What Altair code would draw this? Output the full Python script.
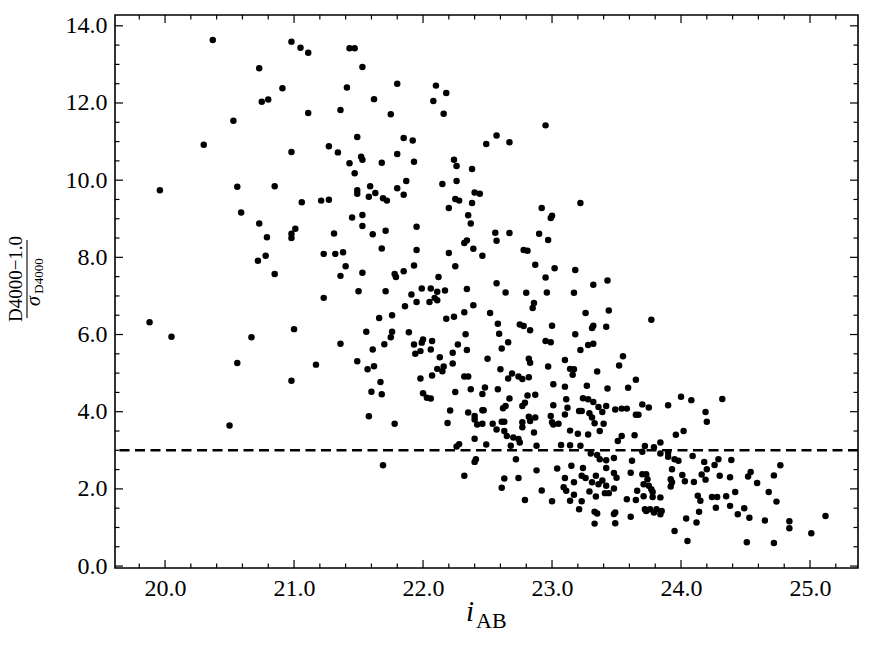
import altair as alt
import pandas as pd

# ---- data (i_AB magnitude, (D4000-1)/sigma) ----
x_vals = [
    20.37, 20.98, 21.05, 21.11, 21.43, 21.47, 20.73, 21.53, 20.91, 21.41, 20.75, 20.80, 21.11, 21.36,
    20.53, 20.30, 20.98, 21.27, 21.34, 21.49, 21.52, 21.53, 21.43, 21.47, 19.96, 20.56, 20.85, 21.49,
    21.49, 21.06, 21.21, 21.27, 20.59, 21.45, 21.53, 21.53, 20.73, 21.01, 20.98, 20.98, 20.79, 21.31,
    21.23, 21.32, 21.38, 21.40, 20.78, 20.72, 20.85, 21.36, 21.53, 21.50,
    21.80, 21.62, 21.75, 22.10, 22.18, 22.08, 22.16, 22.95, 21.85, 21.92, 22.49, 22.57, 22.67, 21.80,
    21.68, 21.93, 22.24, 22.26, 22.38, 21.59, 21.58, 21.63, 21.69, 21.72, 21.80, 21.87, 21.85, 22.15,
    22.26, 22.25, 22.28, 22.20, 22.40, 22.44, 22.38, 22.35, 22.37, 22.92, 23.00, 22.99, 23.22, 21.95,
    21.61, 21.71, 21.68, 21.95, 21.93, 22.20, 22.25, 22.32, 22.34, 22.39, 22.46, 22.56, 22.57, 22.67,
    22.78, 22.81, 22.90, 22.97, 22.87, 22.95, 23.02, 23.18, 23.32, 23.43, 21.78, 21.79, 21.85, 22.12,
    21.71, 21.91, 21.99, 22.06, 22.11, 22.17, 22.34, 22.57, 22.64, 22.80, 22.96, 23.17,
    21.95, 22.05, 22.09, 22.11, 22.39, 22.86, 22.85, 21.86,
    21.66, 21.76, 21.56, 21.75, 21.76, 21.89, 22.18, 22.24, 22.32, 22.33, 22.52, 22.58, 22.59, 22.75,
    22.78, 22.83, 23.00, 23.18, 23.26, 23.32, 23.31, 23.42, 23.44,
    21.61, 21.70, 21.93, 21.94, 22.00, 21.99, 21.98, 22.06, 22.07, 22.13, 22.23, 22.27, 22.34, 22.50,
    22.61, 22.66, 22.82, 22.83, 22.95, 22.99, 23.10, 23.22, 23.28, 23.32,
    21.57, 21.62, 21.67, 21.68, 21.60, 21.98, 22.11, 22.16, 22.15, 22.07, 22.23, 22.25, 22.32, 22.35,
    22.37, 22.46, 22.48, 22.58, 22.60, 22.66, 22.69, 22.74, 22.77, 22.82, 22.97, 23.01, 23.14, 23.17,
    23.16, 23.10, 23.27, 23.35, 23.43,
    22.00, 22.03, 22.06, 21.58, 21.78, 22.21, 22.19, 22.35, 22.40, 22.40, 22.42, 22.46, 22.47, 22.46,
    22.54, 22.57, 22.62, 22.64, 22.67, 22.61, 22.63, 22.63, 22.65, 22.70, 22.74, 22.75, 22.77, 22.77,
    22.77, 22.79, 22.81, 22.87, 22.82, 22.83, 22.87, 22.86, 22.99, 23.00, 23.01, 23.01, 23.05, 23.11,
    23.12, 23.10, 23.14, 23.20, 23.21, 23.24, 23.28, 23.23, 23.29, 23.31, 23.33, 23.32, 23.36, 23.39,
    23.42, 23.40, 23.37, 23.28,
    22.40, 22.49, 22.28, 22.26, 22.68, 22.88, 23.07, 23.14, 23.22, 23.30, 23.35, 23.37, 23.42, 22.72,
    22.41, 22.40,
    21.69, 22.32, 22.88, 23.04, 23.15, 23.24, 23.42, 22.63, 22.61, 22.74, 22.92, 23.00, 22.79, 23.10,
    23.09, 23.11, 23.17, 23.23, 23.26, 23.31, 23.34, 23.36, 23.39, 23.42, 23.44, 23.41, 23.29, 23.34,
    23.14, 23.17, 23.23, 23.21, 23.33, 23.35, 23.33,
    19.88, 20.05, 20.50, 20.56, 20.67, 20.98, 21.00, 21.17, 21.23, 21.36, 21.49,
    23.77, 23.55, 23.52, 23.65, 23.59, 23.49, 23.54, 23.58, 23.70, 23.75, 23.90, 23.65, 23.67, 24.00,
    24.08, 24.32, 24.19, 24.20, 24.02, 23.96, 23.64, 23.54, 23.51, 23.72, 23.79, 23.84, 23.70, 23.84,
    23.90, 23.48, 23.62, 23.90, 23.95, 23.98, 24.09, 24.18, 24.26, 24.29, 24.39, 24.77, 23.93, 24.20,
    23.61, 23.48, 23.50, 24.01, 24.16, 24.30, 24.38, 24.54, 24.52, 24.72, 23.70, 23.73, 23.74, 23.92,
    24.03, 24.10, 24.19, 24.59, 23.48, 23.75, 23.71, 23.92, 23.93, 23.66, 23.77, 23.78, 24.42, 24.68,
    23.71, 23.78, 23.84, 24.13, 24.24, 24.28, 24.35, 23.58, 23.65, 24.15, 24.74, 23.72, 23.76, 23.81,
    23.85, 23.79, 23.73, 24.27, 24.38, 24.49, 24.14, 23.49, 23.48, 23.84, 24.44, 25.12, 23.61, 24.04,
    24.53, 24.65, 24.84, 23.49, 24.12, 24.84, 23.95, 25.01, 24.05, 24.51, 24.72,
]
y_vals = [
    13.63, 13.59, 13.43, 13.30, 13.42, 13.42, 12.90, 12.93, 12.38, 12.40, 12.03, 12.09, 11.74, 11.82,
    11.54, 10.92, 10.73, 10.88, 10.72, 11.12, 10.61, 10.53, 10.44, 10.18, 9.74, 9.83, 9.84, 9.74,
    9.65, 9.43, 9.47, 9.49, 9.16, 9.03, 9.10, 8.81, 8.88, 8.74, 8.61, 8.50, 8.52, 8.62,
    8.09, 8.09, 8.13, 7.77, 8.04, 7.91, 7.57, 7.52, 7.60, 7.12,
    12.50, 12.10, 11.71, 12.45, 12.26, 12.05, 11.72, 11.42, 11.09, 11.03, 10.94, 11.16, 10.98, 10.68,
    10.45, 10.48, 10.53, 10.37, 10.29, 9.84, 9.57, 9.67, 9.53, 9.47, 9.79, 9.98, 9.62, 9.90,
    9.98, 9.51, 9.47, 9.28, 9.68, 9.65, 9.41, 9.09, 8.88, 9.28, 9.08, 9.02, 9.41, 8.79,
    8.60, 8.69, 8.23, 8.19, 7.79, 8.11, 7.77, 8.37, 8.44, 8.22, 8.04, 8.64, 8.43, 8.63,
    8.19, 8.17, 8.61, 8.45, 7.81, 7.48, 7.72, 7.67, 7.29, 7.40, 7.57, 7.49, 7.64, 7.49,
    7.12, 7.04, 7.19, 7.19, 7.11, 7.14, 7.18, 7.33, 7.09, 7.08, 7.09, 7.08,
    6.84, 6.84, 6.95, 6.89, 6.76, 6.82, 6.69, 6.73,
    6.43, 6.50, 6.07, 5.93, 6.07, 6.06, 6.41, 6.46, 6.58, 6.01, 6.56, 6.28, 6.02, 6.26,
    6.22, 6.11, 6.23, 6.01, 6.56, 6.23, 6.17, 6.20, 6.62,
    5.61, 5.75, 5.74, 5.50, 5.87, 5.79, 5.57, 5.61, 5.83, 5.41, 5.53, 5.74, 5.60, 5.37,
    5.64, 5.80, 5.37, 5.27, 5.83, 5.80, 5.34, 5.60, 5.73, 5.76,
    5.10, 5.18, 4.77, 4.45, 4.52, 4.86, 5.11, 5.17, 5.05, 4.94, 5.25, 4.51, 4.91, 4.91,
    4.58, 4.46, 4.63, 4.58, 5.10, 4.86, 4.99, 4.91, 4.85, 4.89, 5.17, 4.71, 5.11, 5.10,
    4.96, 4.65, 4.67, 5.04, 4.60,
    4.48, 4.36, 4.34, 3.88, 3.69, 4.03, 3.71, 3.98, 3.89, 3.80, 3.67, 4.04, 4.04, 3.69,
    3.69, 3.54, 4.09, 4.15, 4.34, 3.74, 3.74, 3.50, 3.37, 3.33, 3.29, 3.20, 3.60, 3.73,
    4.15, 4.23, 4.42, 4.44, 3.87, 3.76, 3.85, 3.46, 3.89, 3.73, 4.17, 3.67, 3.69, 4.32,
    4.10, 3.93, 3.51, 3.43, 4.02, 4.35, 4.32, 4.02, 3.96, 3.85, 3.70, 4.25, 4.12, 3.99,
    4.15, 3.69, 3.50, 3.41,
    3.30, 3.15, 3.16, 3.10, 3.12, 3.12, 3.14, 3.13, 3.12, 2.92, 2.88, 2.77, 2.74, 2.77,
    2.77, 2.70,
    2.61, 2.34, 2.48, 2.53, 2.60, 2.54, 2.54, 2.27, 2.03, 2.28, 1.96, 1.68, 1.71, 2.28,
    2.04, 1.95, 2.17, 2.34, 2.28, 2.17, 2.34, 2.12, 2.22, 2.08, 1.89, 1.89, 1.93, 1.80,
    1.69, 1.85, 1.68, 1.47, 1.41, 1.36, 1.10,
    6.32, 5.94, 3.64, 5.26, 5.93, 4.80, 6.14, 5.22, 6.95, 5.76, 5.31,
    6.38, 5.44, 5.20, 4.83, 4.62, 4.06, 4.08, 4.08, 4.19, 4.11, 4.17, 3.92, 3.92, 4.39,
    4.30, 4.33, 3.99, 3.74, 3.50, 3.40, 3.39, 3.37, 3.24, 3.11, 3.08, 3.20, 2.96, 2.92,
    2.94, 2.80, 2.73, 2.83, 2.77, 2.73, 2.85, 2.70, 2.62, 2.77, 2.75, 2.61, 2.51, 2.51,
    2.42, 2.41, 2.29, 2.36, 2.37, 2.34, 2.30, 2.44, 2.32, 2.35, 2.38, 2.38, 2.25, 2.25,
    2.20, 2.18, 2.24, 2.15, 2.01, 2.08, 2.12, 2.06, 2.17, 1.95, 1.99, 1.92, 1.92, 1.92,
    1.81, 1.79, 1.78, 1.82, 1.79, 1.79, 1.81, 1.73, 1.71, 1.69, 1.67, 1.47, 1.47, 1.47,
    1.43, 1.39, 1.43, 1.51, 1.56, 1.50, 1.41, 1.39, 1.35, 1.34, 1.34, 1.30, 1.28, 1.23,
    1.25, 1.18, 1.16, 1.11, 1.13, 0.98, 0.91, 0.85, 0.65, 0.62, 0.60,
]

threshold = [3.0]
x_major = [20.0, 21.0, 22.0, 23.0, 24.0, 25.0]
x_minor = [19.8, 20.2, 20.4, 20.6, 20.8, 21.2, 21.4, 21.6, 21.8, 22.2, 22.4, 22.6, 22.8,
           23.2, 23.4, 23.6, 23.8, 24.2, 24.4, 24.6, 24.8, 25.2]
y_major = [0.0, 2.0, 4.0, 6.0, 8.0, 10.0, 12.0, 14.0]
y_minor = [0.5, 1.0, 1.5, 2.5, 3.0, 3.5, 4.5, 5.0, 5.5, 6.5, 7.0, 7.5, 8.5, 9.0, 9.5,
           10.5, 11.0, 11.5, 12.5, 13.0, 13.5]

W, H = 743, 553
FONT = "Liberation Serif"
MAJ, MIN = 8, 4.5

xs = alt.Scale(domain=[19.612, 25.372], nice=False, zero=False)
ys = alt.Scale(domain=[-0.05, 14.28], nice=False, zero=False)

x_axis = alt.Axis(values=x_major, format=".1f", title=None)
y_axis = alt.Axis(values=y_major, format=".1f", title=None)

pts = pd.DataFrame({"mag": x_vals, "snr": y_vals})

points = alt.Chart(pts).mark_circle(size=42, color="black", opacity=1).encode(
    x=alt.X("mag:Q", scale=xs, axis=x_axis, title=None),
    y=alt.Y("snr:Q", scale=ys, axis=y_axis, title=None),
)

thr = alt.Chart(pd.DataFrame({"thr": threshold})).mark_rule(
    color="black", strokeWidth=2.5, strokeDash=[10, 5.5]
).encode(y=alt.Y("thr:Q", scale=ys, axis=y_axis, title=None))


def xticks(vals, length, top):
    df = pd.DataFrame({"t": vals})
    if top:
        yy, yy2 = alt.value(0), alt.value(length)
    else:
        yy, yy2 = alt.value(H), alt.value(H - length)
    return alt.Chart(df).mark_rule(color="black", strokeWidth=1.2).encode(
        x=alt.X("t:Q", scale=xs, axis=x_axis, title=None), y=yy, y2=yy2)


def yticks(vals, length, right):
    df = pd.DataFrame({"t": vals})
    if right:
        xx, xx2 = alt.value(W), alt.value(W - length)
    else:
        xx, xx2 = alt.value(0), alt.value(length)
    return alt.Chart(df).mark_rule(color="black", strokeWidth=1.2).encode(
        y=alt.Y("t:Q", scale=ys, axis=y_axis, title=None), x=xx, x2=xx2)


ticks = [
    xticks(x_major, MAJ, False), xticks(x_major, MAJ, True),
    xticks(x_minor, MIN, False), xticks(x_minor, MIN, True),
    yticks(y_major, MAJ, False), yticks(y_major, MAJ, True),
    yticks(y_minor, MIN, False), yticks(y_minor, MIN, True),
]


def label(text, x, y, size, style="normal", angle=0):
    kw = dict(font=FONT, fontSize=size, fontStyle=style, color="black",
              align="center" if angle else "left", baseline="alphabetic")
    if angle:
        kw["angle"] = angle
    return alt.Chart(pd.DataFrame({"s": [text]})).mark_text(**kw).encode(
        text="s:N", x=alt.value(x), y=alt.value(y))


titles = [
    label("i", 351, 606, 29, "italic"),
    label("AB", 361, 613, 22),
    label("D4000\u22121.0", -93, 264, 19, angle=270),
    label("\u03c3", -75, 286, 20, "italic", angle=270),
    label("D4000", -72, 261, 13, angle=270),
    alt.Chart(pd.DataFrame({"b": [0]})).mark_rule(color="black", strokeWidth=1.1).encode(
        x=alt.value(-88), y=alt.value(225), y2=alt.value(303)),
]

chart = alt.layer(points, thr, *ticks, *titles).properties(
    width=W, height=H,
    autosize=alt.AutoSizeParams(type="none"),
    padding={"left": 115, "top": 15, "right": 17, "bottom": 82},
    background="white",
).configure_view(
    stroke="black", strokeWidth=1.6
).configure_axis(
    ticks=False, tickSize=0, domain=False, grid=False,
    labelFont=FONT, labelFontSize=24, labelPadding=8, labelColor="black",
    labelOverlap=False, labelFlush=False,
)

chart.save("out.html", embed_options={"renderer": "svg", "actions": False})
